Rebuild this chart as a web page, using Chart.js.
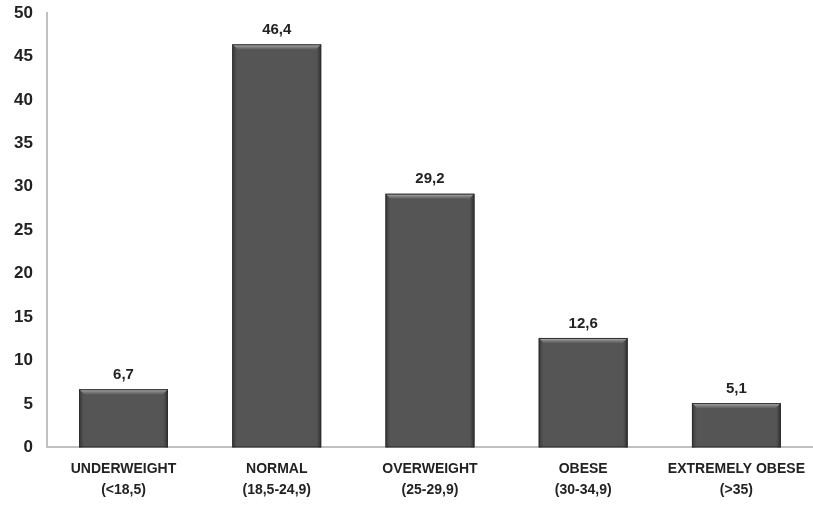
<!DOCTYPE html>
<html>
<head>
<meta charset="utf-8">
<script src="https://cdn.jsdelivr.net/npm/chart.js@4"></script>
<style>
  html, body { margin: 0; padding: 0; background: #fff; }
  #wrap { width: 813px; height: 514px; }
</style>
</head>
<body>
<div id="wrap"><canvas id="chart" width="813" height="514"></canvas></div>
<script>
const categories = [
    ["UNDERWEIGHT", "(<18,5)"],
    ["NORMAL", "(18,5-24,9)"],
    ["OVERWEIGHT", "(25-29,9)"],
    ["OBESE", "(30-34,9)"],
    ["EXTREMELY OBESE", "(>35)"]
];
const values = [6.7, 46.4, 29.2, 12.6, 5.1];
const yTicks = [0, 5, 10, 15, 20, 25, 30, 35, 40, 45, 50];

const fontFamily = "'Liberation Sans', Arial, sans-serif";

// bevel look on each bar
const bevelPlugin = {
    id: 'bevel',
    afterDatasetsDraw(chart) {
        const ctx = chart.ctx;
        chart.getDatasetMeta(0).data.forEach(bar => {
            const left = bar.x - bar.width / 2;
            const right = bar.x + bar.width / 2;
            const top = bar.y;
            const bottom = bar.base;
            const b = 5;
            ctx.save();
            // top highlight
            let g = ctx.createLinearGradient(0, top, 0, top + b);
            g.addColorStop(0, 'rgba(200,200,200,0.9)');
            g.addColorStop(1, 'rgba(140,140,140,0.2)');
            ctx.fillStyle = g;
            ctx.beginPath();
            ctx.moveTo(left, top);
            ctx.lineTo(right, top);
            ctx.lineTo(right - b, top + b);
            ctx.lineTo(left + b, top + b);
            ctx.closePath();
            ctx.fill();
            // left side
            g = ctx.createLinearGradient(left, 0, left + b, 0);
            g.addColorStop(0, 'rgba(40,40,40,0.7)');
            g.addColorStop(1, 'rgba(60,60,60,0)');
            ctx.fillStyle = g;
            ctx.beginPath();
            ctx.moveTo(left, top);
            ctx.lineTo(left + b, top + b);
            ctx.lineTo(left + b, bottom);
            ctx.lineTo(left, bottom);
            ctx.closePath();
            ctx.fill();
            // right side
            g = ctx.createLinearGradient(right, 0, right - b, 0);
            g.addColorStop(0, 'rgba(30,30,30,0.8)');
            g.addColorStop(1, 'rgba(60,60,60,0)');
            ctx.fillStyle = g;
            ctx.beginPath();
            ctx.moveTo(right, top);
            ctx.lineTo(right - b, top + b);
            ctx.lineTo(right - b, bottom);
            ctx.lineTo(right, bottom);
            ctx.closePath();
            ctx.fill();
            ctx.strokeStyle = '#2e2e2e';
            ctx.lineWidth = 1;
            ctx.strokeRect(left + 0.5, top + 0.5, right - left - 1, bottom - top - 1);
            ctx.restore();
        });
    }
};

const valueLabels = {
    id: 'valueLabels',
    afterDatasetsDraw(chart) {
        const ctx = chart.ctx;
        ctx.save();
        ctx.font = "bold 15px " + fontFamily;
        ctx.fillStyle = '#222';
        ctx.textAlign = 'center';
        ctx.textBaseline = 'bottom';
        chart.getDatasetMeta(0).data.forEach((bar, i) => {
            ctx.fillText(values[i].toFixed(1).replace('.', ','), bar.x, bar.y - 7);
        });
        ctx.restore();
    }
};

new Chart(document.getElementById('chart'), {
    type: 'bar',
    data: {
        labels: categories,
        datasets: [{
            data: values,
            backgroundColor: '#555555',
            borderWidth: 0,
            categoryPercentage: 1,
            barPercentage: 0.58
        }]
    },
    options: {
        responsive: false,
        animation: false,
        layout: { padding: { top: 13, right: 0, left: 0, bottom: 2 } },
        plugins: {
            legend: { display: false },
            tooltip: { enabled: false }
        },
        scales: {
            x: {
                afterFit(scale) {
                    scale.paddingLeft = 0;
                    scale.paddingRight = 0;
                },
                grid: { display: false, drawTicks: false },
                border: { color: '#c0c0c0', width: 2 },
                ticks: {
                    color: '#222',
                    padding: 12,
                    maxRotation: 0,
                    autoSkip: false,
                    font: { family: fontFamily, size: 14, weight: 'bold', lineHeight: 1.45 }
                }
            },
            y: {
                min: 0,
                max: 50,
                afterBuildTicks(axis) {
                    axis.ticks = yTicks.map(v => ({ value: v }));
                },
                afterFit(scale) {
                    scale.paddingTop = 0;
                    scale.paddingBottom = 0;
                },
                grid: { display: false, drawTicks: false },
                border: { color: '#c0c0c0', width: 2 },
                ticks: {
                    color: '#222',
                    padding: 14,
                    font: { family: fontFamily, size: 17, weight: 'bold' }
                }
            }
        }
    },
    plugins: [bevelPlugin, valueLabels]
});
</script>
</body>
</html>
